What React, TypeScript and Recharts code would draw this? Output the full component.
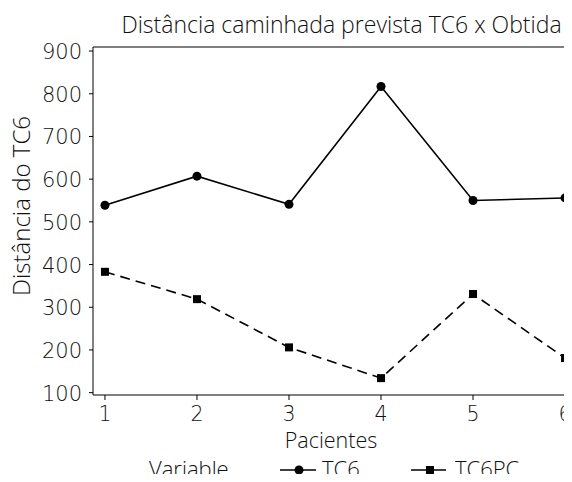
import React from "react";
import { LineChart, Line, XAxis, YAxis, ReferenceLine } from "recharts";

const pacientes = [1, 2, 3, 4, 5, 6];
const tc6 = [539, 607, 541, 817, 550, 556];
const tc6pc = [383, 319, 206, 134, 331, 181];
const yTicks = [100, 200, 300, 400, 500, 600, 700, 800, 900];

const data = pacientes.map((p, i) => ({ p, tc6: tc6[i], tc6pc: tc6pc[i] }));

const FONT = "'Open Sans', sans-serif";
const NUMFONT = "'DejaVu Sans', sans-serif";
const INK = "#000";
const TXT = "#111";
const Y_MIN = 94.5;
const Y_MAX = 909.5;

const SquareDot = (props: any) => {
  const { cx, cy } = props;
  if (cx == null || cy == null) return null;
  return <rect x={cx - 4} y={cy - 4} width={8} height={8} fill={INK} />;
};

const XTick = (props: any) => {
  const { x, y, payload } = props;
  return (
    <text x={x} y={y} dy={19} textAnchor="middle" fontSize={20.5} fontWeight={300} fontFamily={NUMFONT} fill={TXT}>
      {payload.value}
    </text>
  );
};

const YTick = (props: any) => {
  const { x, y, payload } = props;
  return (
    <text x={x} y={y} dy={8} textAnchor="end" fontSize={21} fontWeight={300} fontFamily={NUMFONT} fill={TXT}>
      {payload.value}
    </text>
  );
};

export default function App() {
  return (
    <div style={{ position: "relative", width: 572, height: 482, margin: -8, overflow: "hidden", background: "#fff" }}>
      <LineChart width={590} height={482} data={data} margin={{ top: 47, right: 13, bottom: 0, left: 0 }}>
        <XAxis
          dataKey="p"
          type="number"
          domain={[0.87, 6.13]}
          ticks={pacientes}
          tick={<XTick />}
          tickSize={5}
          tickMargin={2}
          height={87}
          stroke={INK}
          allowDataOverflow
        />
        <YAxis
          type="number"
          domain={[Y_MIN, Y_MAX]}
          ticks={yTicks}
          tick={<YTick />}
          tickSize={4}
          tickMargin={7}
          width={93}
          stroke={INK}
          allowDataOverflow
        />
        <ReferenceLine y={Y_MAX} stroke={INK} strokeWidth={1} ifOverflow="extendDomain" />
        <Line
          dataKey="tc6"
          stroke={INK}
          strokeWidth={1.6}
          dot={{ r: 4.5, fill: INK, stroke: INK, strokeWidth: 0 }}
          isAnimationActive={false}
        />
        <Line
          dataKey="tc6pc"
          stroke={INK}
          strokeWidth={1.6}
          strokeDasharray="10 6"
          dot={<SquareDot />}
          isAnimationActive={false}
        />
      </LineChart>
      <svg
        width={572}
        height={482}
        style={{ position: "absolute", left: 0, top: 0, pointerEvents: "none" }}
        fontFamily={FONT}
        fontWeight={300}
        fill={TXT}
      >
        <text x={341.5} y={33} fontSize={23} textAnchor="middle">
          Distância caminhada prevista TC6 x Obtida
        </text>
        <text x={30} y={206} fontSize={24} textAnchor="middle" transform="rotate(-90 30 206)">
          Distância do TC6
        </text>
        <text x={331} y={448} fontSize={21.5} textAnchor="middle">
          Pacientes
        </text>
        <text x={149} y={477} fontSize={22}>Variable</text>
        <line x1={280} y1={470} x2={316} y2={470} stroke={INK} strokeWidth={1.6} />
        <circle cx={299} cy={470} r={4.5} fill={INK} />
        <text x={322} y={477} fontSize={22}>TC6</text>
        <line x1={411} y1={470} x2={446} y2={470} stroke={INK} strokeWidth={1.6} />
        <rect x={426} y={466} width={8} height={8} fill={INK} />
        <text x={455} y={477} fontSize={22}>TC6PC</text>
      </svg>
    </div>
  );
}
